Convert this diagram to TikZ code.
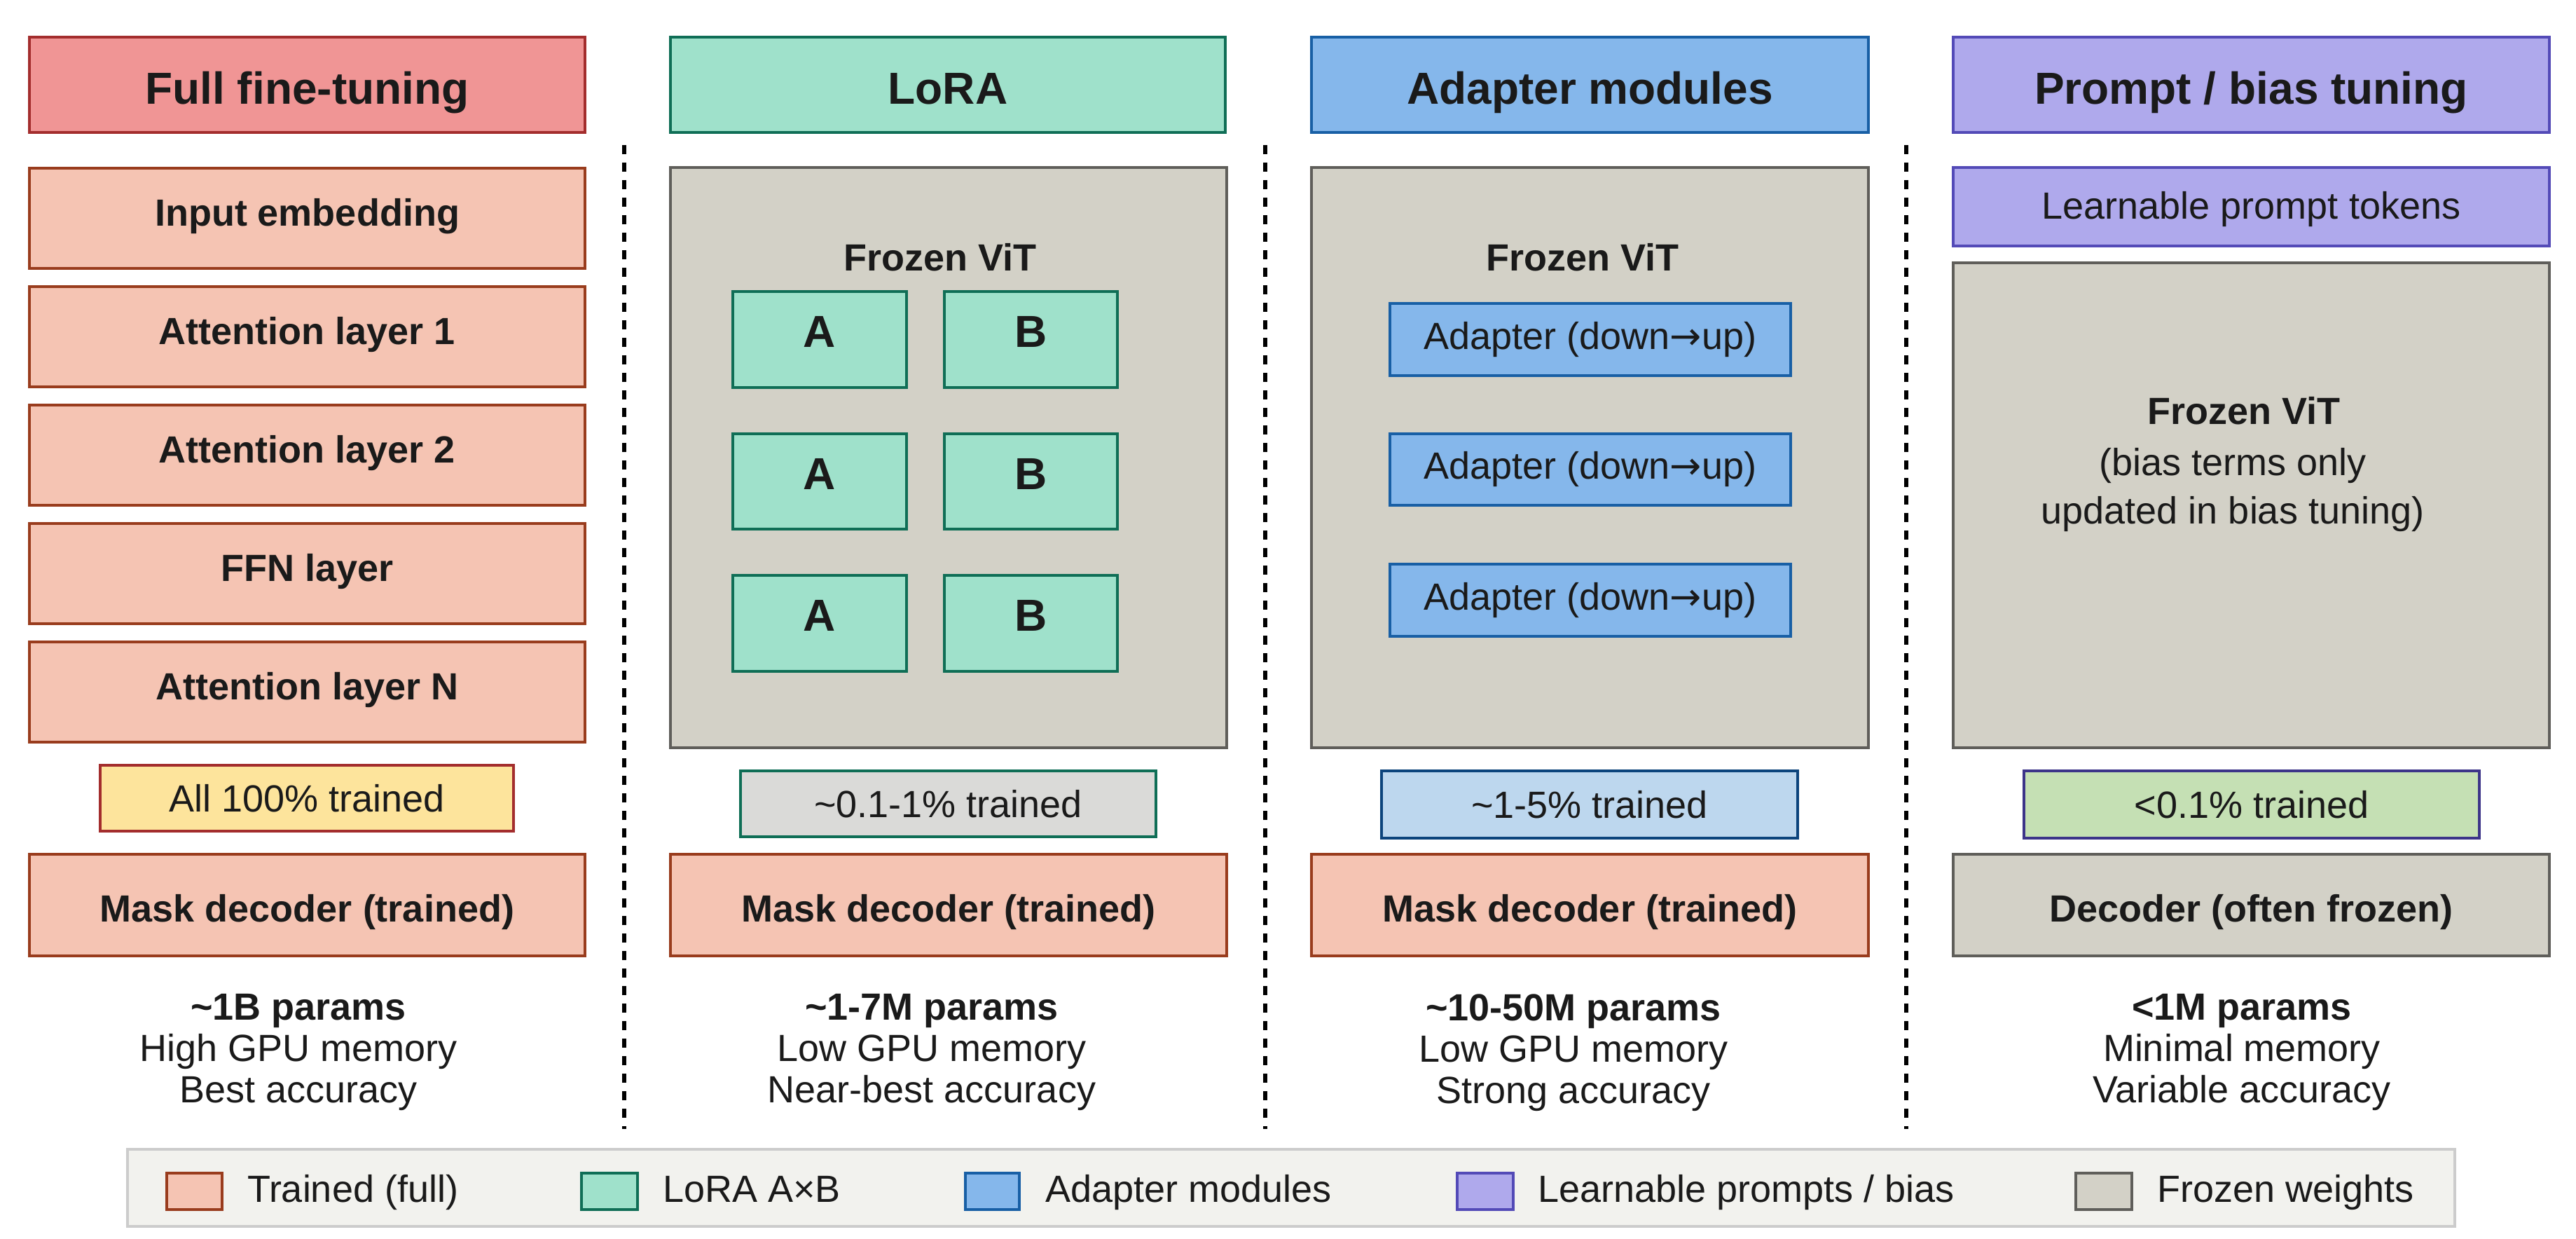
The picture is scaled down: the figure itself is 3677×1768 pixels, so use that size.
\documentclass[tikz,border=0pt]{standalone}
\usepackage{fontspec}
\setmainfont{Liberation Sans}
\newfontfamily\arrowfont{DejaVu Sans}
\newcommand\rarr{{\arrowfont →}}
\definecolor{txt}{HTML}{1A1A1A}
\definecolor{titleredF}{HTML}{F09595}
\definecolor{titleredD}{HTML}{A32D2D}
\definecolor{trainF}{HTML}{F5C4B3}
\definecolor{trainD}{HTML}{993C1D}
\definecolor{yelF}{HTML}{FDE49C}
\definecolor{loraF}{HTML}{9FE1CB}
\definecolor{loraD}{HTML}{0F6E56}
\definecolor{greyF}{HTML}{DADAD8}
\definecolor{adaF}{HTML}{85B7EB}
\definecolor{adaD}{HTML}{185FA5}
\definecolor{ltblueF}{HTML}{BDD7EE}
\definecolor{ltblueD}{HTML}{0C447C}
\definecolor{prF}{HTML}{AFA9EC}
\definecolor{prD}{HTML}{534AB7}
\definecolor{grnF}{HTML}{C5E0B4}
\definecolor{grnD}{HTML}{3C3489}
\definecolor{frzF}{HTML}{D3D1C7}
\definecolor{frzD}{HTML}{5F5E5A}
\definecolor{legF}{HTML}{F2F2EE}
\definecolor{legD}{HTML}{CCCCCC}
\newcommand\mybox[7]{\node[#6, minimum width={(#4-#2)*0.2pt}, minimum height={(#5-#3)*0.2pt}] (#1) at ({(#2+#4)/2},{(#3+#5)/2}) {#7};}
\tikzset{
  bx/.style={rectangle, draw, line width=0.7pt, inner sep=0pt, outer sep=0pt, text=txt},
  fbody/.style={font=\fontsize{10.8}{13}\selectfont},
  bbody/.style={font=\fontsize{10.8}{13}\selectfont\bfseries},
  big/.style={font=\fontsize{12.8}{15}\selectfont\bfseries},
  titleS/.style={bx, big, text height=11.2pt, text depth=0pt},
  titleA/.style={titleS, fill=titleredF, draw=titleredD},
  titleB/.style={titleS, fill=loraF, draw=loraD},
  titleC/.style={titleS, fill=adaF, draw=adaD},
  titleD/.style={titleS, fill=prF, draw=prD},
  layer/.style={bx, bbody, fill=trainF, draw=trainD, text height=4.4pt, text depth=0pt},
  decoder/.style={bx, bbody, text height=9.4pt, text depth=0pt},
  trained/.style={decoder, fill=trainF, draw=trainD},
  frozen/.style={bx, fill=frzF, draw=frzD},
  lorabox/.style={bx, big, fill=loraF, draw=loraD, text height=4.6pt, text depth=0pt},
  adabox/.style={bx, fbody, fill=adaF, draw=adaD},
  promptbox/.style={bx, fbody, fill=prF, draw=prD, text height=7.2pt, text depth=0pt},
  pctA/.style={bx, fbody, fill=yelF, draw=titleredD},
  pctB/.style={bx, fbody, fill=greyF, draw=loraD},
  pctC/.style={bx, fbody, fill=ltblueF, draw=ltblueD},
  pctD/.style={bx, fbody, fill=grnF, draw=grnD},
  label/.style={inner sep=0pt, text=txt},
  stat/.style={align=center, inner sep=0pt, text=txt, font=\fontsize{10.8}{11.8}\selectfont},
  sepline/.style={line width=1.2pt, draw=black, dash pattern=on 2.6pt off 2.4pt},
  legbox/.style={rectangle, draw=legD, fill=legF, line width=0.9pt, inner sep=0pt, outer sep=0pt},
  swatch/.style={rectangle, line width=0.8pt, inner sep=0pt, outer sep=0pt},
  legtext/.style={anchor=base west, inner sep=0pt, text=txt, font=\fontsize{10.8}{13}\selectfont}
}
\begin{document}
\begin{tikzpicture}[x=0.2pt,y=-0.2pt]
\useasboundingbox (0,0) rectangle (3677,1768);

% ---------- Column 1: Full fine-tuning ----------
\mybox{t1}{42}{53}{835}{189}{titleA}{Full fine-tuning}
\mybox{c1a}{42}{240}{835}{383}{layer}{Input embedding}
\mybox{c1b}{42}{409}{835}{552}{layer}{Attention layer 1}
\mybox{c1c}{42}{578}{835}{721}{layer}{Attention layer 2}
\mybox{c1d}{42}{747}{835}{890}{layer}{FFN layer}
\mybox{c1e}{42}{916}{835}{1059}{layer}{Attention layer N}
\mybox{p1}{143}{1092}{733}{1186}{pctA}{All 100\% trained}
\mybox{d1}{42}{1219}{835}{1364}{trained}{Mask decoder (trained)}
\node[stat] (st1) at (426,1502) {\textbf{\textasciitilde1B params}\\High GPU memory\\Best accuracy};

% ---------- Column 2: LoRA ----------
\mybox{t2}{957}{53}{1749}{189}{titleB}{LoRA}
\mybox{f2}{957}{239}{1751}{1067}{frozen}{}
\node[label, bbody] (f2l) at (1342,367) {Frozen ViT};
\mybox{a1}{1046}{416}{1294}{553}{lorabox}{A}
\mybox{b1}{1348}{416}{1595}{553}{lorabox}{B}
\mybox{a2}{1046}{619}{1294}{755}{lorabox}{A}
\mybox{b2}{1348}{619}{1595}{755}{lorabox}{B}
\mybox{a3}{1046}{821}{1294}{958}{lorabox}{A}
\mybox{b3}{1348}{821}{1595}{958}{lorabox}{B}
\mybox{p2}{1057}{1100}{1650}{1194}{pctB}{\textasciitilde0.1-1\% trained}
\mybox{d2}{957}{1219}{1751}{1364}{trained}{Mask decoder (trained)}
\node[stat] (st2) at (1330,1502) {\textbf{\textasciitilde1-7M params}\\Low GPU memory\\Near-best accuracy};

% ---------- Column 3: Adapter modules ----------
\mybox{t3}{1872}{53}{2667}{189}{titleC}{Adapter modules}
\mybox{f3}{1872}{239}{2667}{1067}{frozen}{}
\node[label, bbody] (f3l) at (2259,367) {Frozen ViT};
\mybox{ad1}{1984}{433}{2556}{536}{adabox}{Adapter (down\rarr up)}
\mybox{ad2}{1984}{619}{2556}{721}{adabox}{Adapter (down\rarr up)}
\mybox{ad3}{1984}{805}{2556}{908}{adabox}{Adapter (down\rarr up)}
\mybox{p3}{1972}{1100}{2566}{1196}{pctC}{\textasciitilde1-5\% trained}
\mybox{d3}{1872}{1219}{2667}{1364}{trained}{Mask decoder (trained)}
\node[stat] (st3) at (2246,1502) {\textbf{\textasciitilde10-50M params}\\Low GPU memory\\Strong accuracy};

% ---------- Column 4: Prompt / bias tuning ----------
\mybox{t4}{2788}{53}{3639}{189}{titleD}{Prompt / bias tuning}
\mybox{lp}{2788}{239}{3639}{351}{promptbox}{Learnable prompt tokens}
\mybox{f4}{2788}{375}{3639}{1067}{frozen}{}
\node[label, bbody] (f4l) at (3203,586) {Frozen ViT};
\node[stat, font=\fontsize{10.8}{13.8}\selectfont] (f4t) at (3187,699) {(bias terms only\\updated in bias tuning)};
\mybox{p4}{2889}{1100}{3539}{1196}{pctD}{<0.1\% trained}
\mybox{d4}{2788}{1219}{3639}{1364}{decoder, fill=frzF, draw=frzD}{Decoder (often frozen)}
\node[stat] (st4) at (3200,1502) {\textbf{<1M params}\\Minimal memory\\Variable accuracy};

% ---------- Separators ----------
\coordinate (s1t) at (891,207);  \coordinate (s1b) at (891,1611);
\coordinate (s2t) at (1806,207); \coordinate (s2b) at (1806,1611);
\coordinate (s3t) at (2721,207); \coordinate (s3b) at (2721,1611);
\draw[sepline] (s1t) -- (s1b);
\draw[sepline] (s2t) -- (s2b);
\draw[sepline] (s3t) -- (s3b);

% ---------- Legend ----------
\mybox{leg}{182}{1640}{3504}{1750}{legbox}{}
\mybox{sw1}{238}{1674}{317}{1726}{swatch, fill=trainF, draw=trainD}{}
\node[legtext] (lt1) at (352,1715) {Trained (full)};
\mybox{sw2}{830}{1674}{910}{1726}{swatch, fill=loraF, draw=loraD}{}
\node[legtext] (lt2) at (945,1715) {LoRA A×B};
\mybox{sw3}{1378}{1674}{1455}{1726}{swatch, fill=adaF, draw=adaD}{}
\node[legtext] (lt3) at (1491,1715) {Adapter modules};
\mybox{sw4}{2080}{1674}{2160}{1726}{swatch, fill=prF, draw=prD}{}
\node[legtext] (lt4) at (2194,1715) {Learnable prompts / bias};
\mybox{sw5}{2963}{1674}{3043}{1726}{swatch, fill=frzF, draw=frzD}{}
\node[legtext] (lt5) at (3078,1715) {Frozen weights};
\end{tikzpicture}
\end{document}
